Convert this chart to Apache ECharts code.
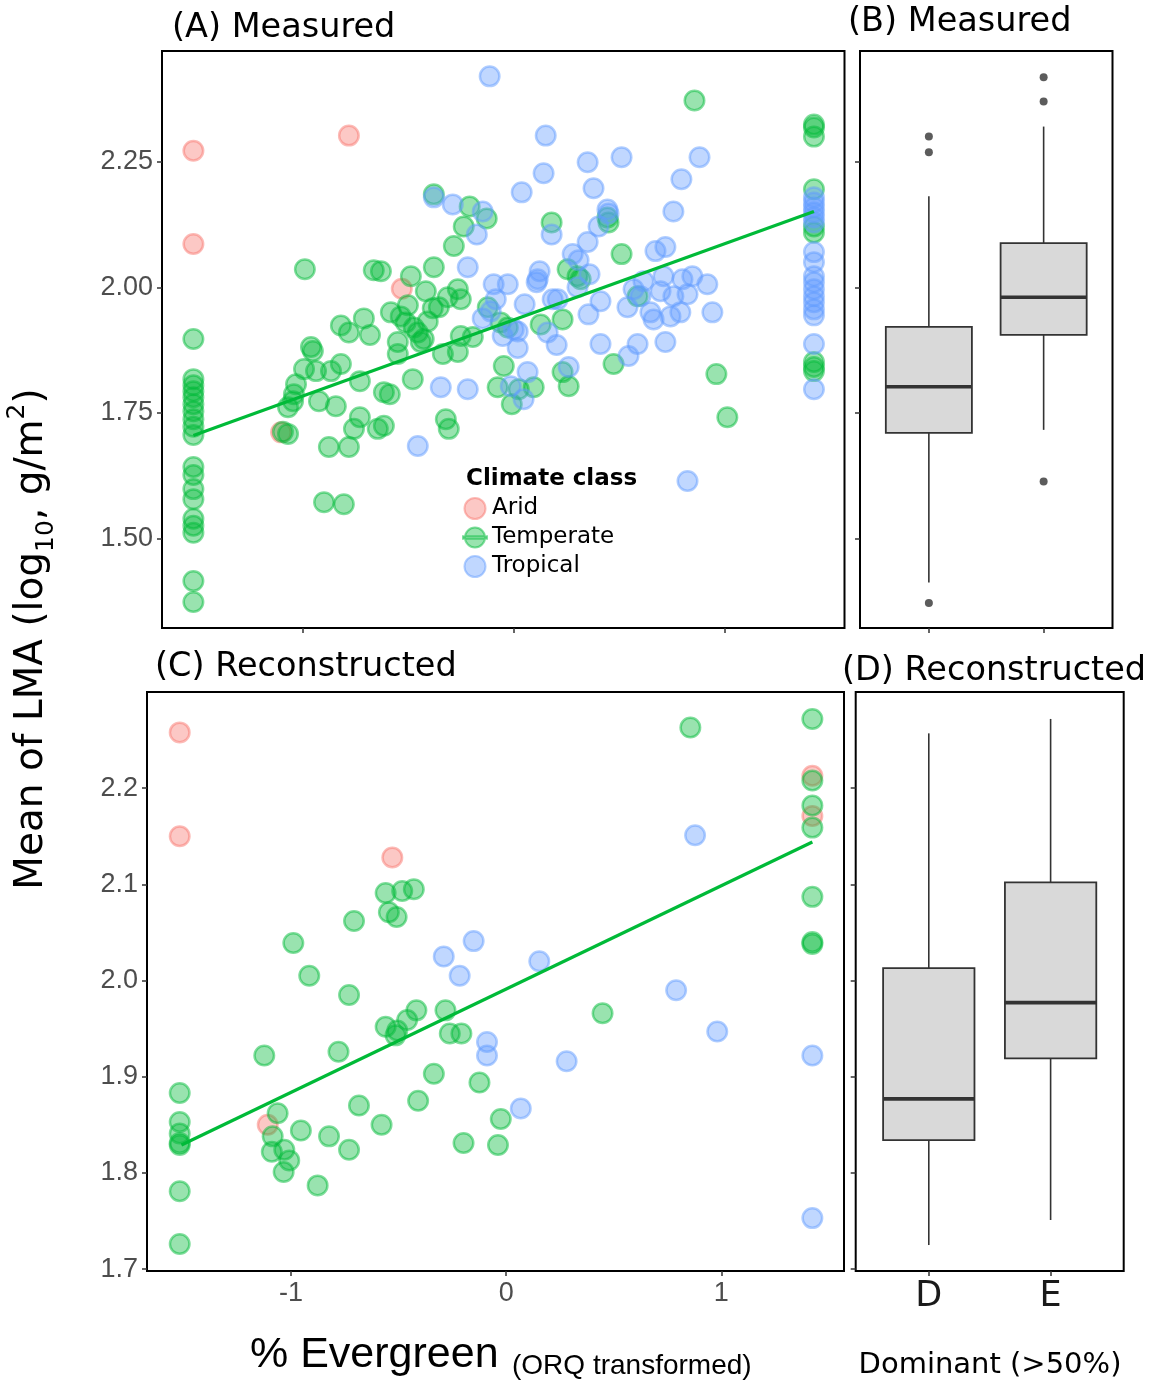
<!DOCTYPE html>
<html>
<head>
<meta charset="utf-8">
<script src="https://cdn.jsdelivr.net/npm/echarts@6/dist/echarts.min.js"></script>
<style>
html,body{margin:0;padding:0;background:#ffffff;}
#chart{width:1149px;height:1385px;}
</style>
</head>
<body>
<div id="chart"></div>
<script>
// ---------------- DATA ----------------
const climateClasses = ['Arid', 'Temperate', 'Tropical'];

// Panel A: measured LMA vs % evergreen (ORQ transformed)
const measuredArid = [[-1.52,2.272],[-1.52,2.086],[-0.782,2.302],[-0.531,1.997],[-1.104,1.711]];
const measuredTemperate = [
  [-1.52,1.897],[-1.52,1.817],[-1.52,1.805],[-1.52,1.793],[-1.52,1.781],[-1.52,1.767],[-1.52,1.753],[-1.52,1.737],
  [-1.52,1.722],[-1.52,1.706],[-1.52,1.642],[-1.52,1.626],[-1.52,1.598],[-1.52,1.578],[-1.52,1.539],[-1.52,1.525],
  [-1.52,1.511],[-1.52,1.415],[-1.52,1.373],
  [-0.379,2.185],[-0.209,2.161],[-0.128,2.137],[-0.237,2.121],[-0.284,2.082],[-0.991,2.036],[-0.664,2.034],[-0.379,2.040],
  [-0.488,2.022],[-0.417,1.992],[-0.265,1.996],[-0.251,1.976],[-0.313,1.980],[-0.502,1.964],[-0.355,1.960],[-0.583,1.950],
  [-0.536,1.942],[-0.512,1.930],[-0.408,1.932],[-0.062,1.930],[-0.711,1.938],[-0.820,1.924],[-0.782,1.910],[-0.682,1.905],
  [-0.550,1.891],[-0.455,1.910],[-0.441,1.891],[-0.251,1.903],[-0.194,1.901],[-0.630,2.032],[-0.384,1.958],[-0.474,1.920],
  [-0.427,1.897],[-0.123,1.960],[-0.028,1.920],[0.128,1.926],[0.232,1.936],[-0.550,1.867],[-0.265,1.871],[-0.336,1.867],
  [-0.047,1.843],[0.232,1.831],[0.261,1.803],[-0.076,1.801],[0.024,1.797],[0.095,1.801],[-0.009,1.767],
  [0.858,2.372],[0.180,2.129],[0.445,2.139],[0.450,2.129],[0.512,2.066],[0.256,2.036],[0.303,2.022],[0.318,2.016],[0.588,1.982],
  [-0.962,1.881],[-0.953,1.873],[-0.995,1.837],[-0.938,1.833],[-1.033,1.807],[-1.043,1.787],[-1.071,1.761],[-1.047,1.773],
  [-1.095,1.712],[-1.071,1.708],[-0.924,1.773],[-0.844,1.763],[-0.867,1.833],[-0.820,1.847],[-0.730,1.813],[-0.730,1.741],
  [-0.758,1.718],[-0.645,1.718],[-0.616,1.724],[-0.877,1.682],[-0.782,1.682],[-0.616,1.791],[-0.588,1.787],[-0.479,1.817],
  [-0.322,1.737],[-0.308,1.718],[-0.900,1.572],[-0.806,1.568],[0.962,1.827],[1.014,1.741],[0.474,1.847],
  [1.425,2.324],[1.425,2.318],[1.425,2.300],[1.425,2.195],[1.425,2.121],[1.425,2.109],[1.425,1.851],[1.425,1.841],[1.425,1.833]
];
const measuredTropical = [
  [-0.114,2.420],[-0.379,2.179],[-0.289,2.165],[-0.147,2.151],[-0.175,2.105],[-0.218,2.040],[-0.095,2.006],[-0.028,2.006],
  [-0.085,1.976],[-0.147,1.938],[-0.109,1.952],[0.152,2.302],[0.351,2.249],[0.512,2.259],[0.882,2.259],[0.142,2.227],
  [0.379,2.197],[0.796,2.215],[0.038,2.189],[0.758,2.151],[0.445,2.155],[0.450,2.147],[0.403,2.121],[0.180,2.105],
  [0.351,2.090],[0.673,2.072],[0.720,2.080],[0.280,2.066],[0.308,2.054],[0.123,2.032],[0.114,2.016],[0.360,2.026],
  [0.616,2.012],[0.711,2.022],[0.801,2.016],[0.848,2.022],[0.919,2.006],[0.569,1.996],[0.602,1.982],[0.697,1.992],
  [0.758,1.982],[0.825,1.986],[0.540,1.960],[0.649,1.950],[0.664,1.936],[0.744,1.942],[0.791,1.950],[0.943,1.950],
  [0.412,1.972],[0.355,1.946],[0.303,2.000],[0.185,1.976],[0.052,1.966],[0.019,1.912],[0.019,1.879],[0.204,1.885],
  [0.412,1.887],[0.588,1.887],[0.720,1.891],[0.209,1.976],[0.000,1.916],[-0.052,1.903],[0.161,1.910],[0.066,1.831],
  [0.261,1.841],[-0.346,1.801],[-0.218,1.797],[0.047,1.777],[0.825,1.614],[0.545,1.863],[-0.014,1.803],[-0.455,1.684],
  [0.109,2.010],
  [1.425,2.179],[1.425,2.169],[1.425,2.159],[1.425,2.149],[1.425,2.139],[1.425,2.129],[1.425,2.070],[1.425,2.050],
  [1.425,2.022],[1.425,2.010],[1.425,1.996],[1.425,1.982],[1.425,1.970],[1.425,1.956],[1.425,1.944],[1.425,1.887],[1.425,1.797]
];
const measuredTrend = [[-1.52,1.705],[1.425,2.151]];

// Panel C: reconstructed
const reconArid = [[-1.517,2.258],[-1.517,2.150],[-0.529,2.128],[-1.108,1.850],[1.423,2.213],[1.423,2.171]];
const reconTemperate = [
  [-0.560,2.091],[-0.483,2.093],[-0.429,2.095],[-0.545,2.071],[-0.509,2.066],[-0.707,2.062],[-0.989,2.039],[-0.915,2.005],
  [-0.730,1.985],[0.856,2.263],[1.423,2.272],[1.423,2.208],[1.423,2.182],[1.423,2.159],[1.423,2.087],[1.423,2.040],[1.423,2.038],
  [-0.560,1.952],[-0.506,1.948],[-0.460,1.959],[-0.417,1.969],[-0.514,1.943],[-0.282,1.969],[-0.262,1.945],[-0.208,1.945],
  [-1.124,1.922],[-0.779,1.926],[-0.336,1.903],[-0.124,1.894],[-0.409,1.875],[-0.684,1.870],
  [-1.517,1.883],[-1.517,1.853],[-1.517,1.841],[-1.517,1.831],[-1.517,1.829],[-1.517,1.781],[-1.517,1.726],
  [-1.062,1.862],[-1.085,1.838],[-1.031,1.824],[-1.008,1.813],[-1.089,1.822],[-1.034,1.801],[-0.954,1.844],[-0.823,1.838],
  [-0.730,1.824],[-0.876,1.787],[-0.579,1.850],[-0.198,1.831],[-0.038,1.829],[-0.025,1.856],[0.448,1.966]
];
const reconTropical = [
  [-0.151,2.041],[-0.290,2.025],[-0.216,2.005],[0.878,2.151],[0.154,2.020],[0.790,1.990],[-0.089,1.936],[-0.089,1.922],
  [0.981,1.947],[1.423,1.922],[0.281,1.916],[0.068,1.867],[1.423,1.753]
];
const reconTrend = [[-1.509,1.829],[1.423,2.144]];

// Boxplots: [position, lower whisker, Q1, median, Q3, upper whisker]
const boxCategories = ['D', 'E'];
const measuredBoxStats = [[1,1.412,1.710,1.802,1.921,2.181],[2,1.716,1.905,1.980,2.088,2.320]];
const measuredOutliers = [[1,2.300],[1,2.269],[1,1.371],[2,2.418],[2,2.370],[2,1.613]];
const reconBoxStats = [[1,1.725,1.834,1.877,2.013,2.257],[2,1.751,1.919,1.977,2.102,2.272]];

// Tick values
const evergreenTicks = [-1, 0, 1];
const measuredYTicks = [1.5, 1.75, 2.0, 2.25];
const reconYTicks = [1.7, 1.8, 1.9, 2.0, 2.1, 2.2];
const boxTicks = [1, 2];

// ---------------- STYLE ----------------
const fills = {Arid:'rgba(248,118,109,0.5)', Temperate:'rgba(0,186,56,0.5)', Tropical:'rgba(97,156,255,0.5)'};
const strokes = {Arid:'rgba(248,118,109,0.62)', Temperate:'rgba(0,186,56,0.62)', Tropical:'rgba(97,156,255,0.62)'};
const tickStyle = {show:true, inside:false, length:5, lineStyle:{color:'#333333', width:1.5}};
const labelStyle = {color:'#4D4D4D', fontSize:27, fontFamily:'Liberation Sans'};
const SANS = 'DejaVu Sans';

function axisDef(grid, min, max, ticks, label) {
  return {
    type:'value', gridIndex:grid, min:min, max:max,
    axisLine:{show:false, onZero:false}, splitLine:{show:false},
    axisTick:Object.assign({customValues:ticks}, tickStyle),
    axisLabel: label ? Object.assign({show:true, customValues:ticks}, label) : {show:false}
  };
}
function scatter(name, data, idx) {
  return {
    type:'scatter', name:name, data:data, xAxisIndex:idx, yAxisIndex:idx,
    symbol:'circle', symbolSize:19.5, z:2,
    itemStyle:{color:fills[name], borderColor:strokes[name], borderWidth:2.5},
    emphasis:{disabled:true}
  };
}
function trend(name, data, idx) {
  return {
    type:'line', name:name, data:data, xAxisIndex:idx, yAxisIndex:idx,
    symbol:'none', z:4, silent:true,
    lineStyle:{color:'#00BA38', width:3.2}
  };
}
const BOX_HALF = 0.375;
function renderBox(params, api) {
  const x = api.value(0);
  const lo = api.value(1), q1 = api.value(2), med = api.value(3), q3 = api.value(4), hi = api.value(5);
  const pLo = api.coord([x, lo]), pQ1 = api.coord([x, q1]), pQ3 = api.coord([x, q3]), pHi = api.coord([x, hi]);
  const bl = api.coord([x - BOX_HALF, q1]), tr = api.coord([x + BOX_HALF, q3]);
  const ml = api.coord([x - BOX_HALF, med]), mr = api.coord([x + BOX_HALF, med]);
  const ln = {stroke:'#333333', lineWidth:1.6};
  return {type:'group', children:[
    {type:'line', shape:{x1:pLo[0], y1:pLo[1], x2:pQ1[0], y2:pQ1[1]}, style:ln},
    {type:'line', shape:{x1:pQ3[0], y1:pQ3[1], x2:pHi[0], y2:pHi[1]}, style:ln},
    {type:'rect', shape:{x:bl[0], y:tr[1], width:tr[0]-bl[0], height:bl[1]-tr[1]}, style:{fill:'#D9D9D9', stroke:'#333333', lineWidth:1.8}},
    {type:'line', shape:{x1:ml[0], y1:ml[1], x2:mr[0], y2:mr[1]}, style:{stroke:'#333333', lineWidth:3.6}}
  ]};
}
function boxSeries(data, idx) {
  return {type:'custom', data:data, xAxisIndex:idx, yAxisIndex:idx, renderItem:renderBox,
          encode:{x:0, y:[1,2,3,4,5]}, clip:false, silent:true, z:2};
}

const temperateIcon = 'path://M2,12 A10,10 0 1,1 22,12 A10,10 0 1,1 2,12 Z M0,10.8 L24,10.8 L24,13.2 L0,13.2 Z';
const titleText = {fontSize:33.5, fontWeight:'normal', fontFamily:SANS, color:'#000000'};

const option = {
  backgroundColor:'#ffffff',
  animation:false,
  title:[
    {text:'(A) Measured', left:172, top:11, padding:0, textStyle:titleText},
    {text:'(B) Measured', left:848, top:5, padding:0, textStyle:titleText},
    {text:'(C) Reconstructed', left:155, top:650, padding:0, textStyle:titleText},
    {text:'(D) Reconstructed', left:842, top:654, padding:0, textStyle:titleText}
  ],
  grid:[
    {left:162, top:51, width:682.5, height:577, show:true, borderColor:'#000', borderWidth:2, backgroundColor:'transparent'},
    {left:860, top:51, width:252.5, height:577, show:true, borderColor:'#000', borderWidth:2, backgroundColor:'transparent'},
    {left:147, top:692, width:697, height:579, show:true, borderColor:'#000', borderWidth:2, backgroundColor:'transparent'},
    {left:855.7, top:692, width:268, height:579, show:true, borderColor:'#000', borderWidth:2, backgroundColor:'transparent'}
  ],
  xAxis:[
    axisDef(0, -1.669, 1.570, evergreenTicks, null),
    axisDef(1, 0.4, 2.6, boxTicks, null),
    axisDef(2, -1.669, 1.570, evergreenTicks, Object.assign({margin:9, formatter:v => String(v)}, labelStyle)),
    axisDef(3, 0.4, 2.6, boxTicks, {margin:8, color:'#1a1a1a', fontSize:35, fontFamily:SANS,
             formatter:v => boxCategories[Math.round(v) - 1]})
  ],
  yAxis:[
    axisDef(0, 1.3214, 2.4705, measuredYTicks, Object.assign({margin:9, formatter:v => v.toFixed(2)}, labelStyle)),
    axisDef(1, 1.3214, 2.4705, measuredYTicks, null),
    axisDef(2, 1.698, 2.300, reconYTicks, Object.assign({margin:9, formatter:v => v.toFixed(1)}, labelStyle)),
    axisDef(3, 1.698, 2.300, reconYTicks, null)
  ],
  legend:{
    data:[{name:'Arid', icon:'circle'}, {name:'Temperate', icon:temperateIcon}, {name:'Tropical', icon:'circle'}],
    orient:'vertical', left:462, top:497, itemWidth:24, itemHeight:21, itemGap:6, padding:0,
    selectedMode:false,
    textStyle:{fontSize:23, fontFamily:SANS, color:'#000000'}
  },
  graphic:[
    {type:'text', x:466, y:479, style:{text:'Climate class', fontSize:23, fontWeight:'bold', fontFamily:SANS, fill:'#000', verticalAlign:'middle'}},
    {type:'text', x:32, y:639, rotation:Math.PI/2,
     style:{text:'{a|Mean of LMA (log}{s|10}{a|, g/m}{p|2}{a|)}', align:'center', verticalAlign:'middle',
            rich:{
              a:{fontSize:39, fontFamily:SANS, fill:'#000', lineHeight:54, verticalAlign:'middle'},
              s:{fontSize:25, fontFamily:SANS, fill:'#000', lineHeight:25, verticalAlign:'bottom'},
              p:{fontSize:25, fontFamily:SANS, fill:'#000', lineHeight:25, verticalAlign:'top'}
            }}},
    {type:'text', x:250, y:1355, style:{text:'% Evergreen', fontSize:43, fontFamily:'Liberation Sans', fill:'#000', verticalAlign:'middle'}},
    {type:'text', x:512, y:1366, style:{text:'(ORQ transformed)', fontSize:28, fontFamily:'Liberation Sans', fill:'#000', verticalAlign:'middle'}},
    {type:'text', x:990, y:1365, style:{text:'Dominant (>50%)', fontSize:29, fontFamily:SANS, fill:'#000', align:'center', verticalAlign:'middle'}}
  ],
  series:[
    scatter('Arid', measuredArid, 0),
    scatter('Temperate', measuredTemperate, 0),
    scatter('Tropical', measuredTropical, 0),
    trend('Temperate trend (measured)', measuredTrend, 0),
    boxSeries(measuredBoxStats, 1),
    {type:'scatter', name:'Outliers (measured)', data:measuredOutliers, xAxisIndex:1, yAxisIndex:1,
     symbolSize:8, itemStyle:{color:'#333333'}, z:3, silent:true},
    scatter('Arid', reconArid, 2),
    scatter('Temperate', reconTemperate, 2),
    scatter('Tropical', reconTropical, 2),
    trend('Temperate trend (reconstructed)', reconTrend, 2),
    boxSeries(reconBoxStats, 3)
  ]
};

const chart = echarts.init(document.getElementById('chart'), null, {renderer:'canvas'});
chart.setOption(option);
</script>
</body>
</html>
